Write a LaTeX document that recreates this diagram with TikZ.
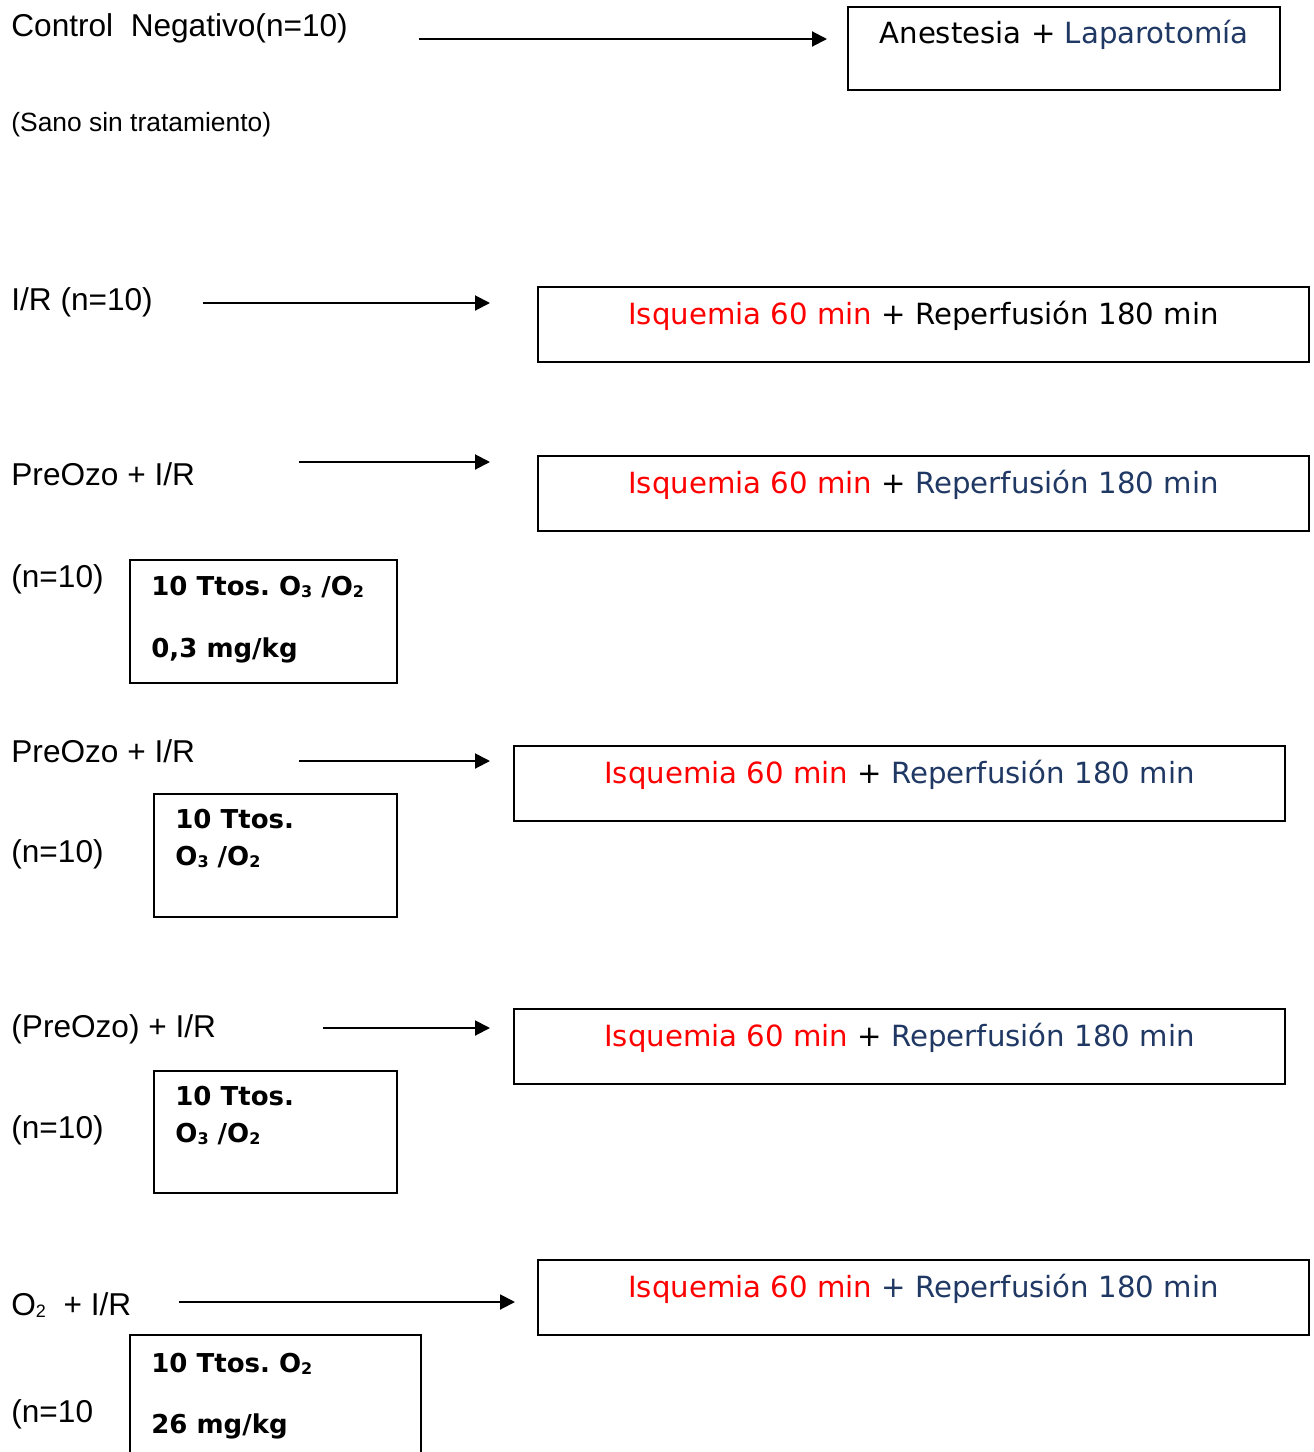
\documentclass[tikz,border=0pt]{standalone}
\usepackage{fontspec}
\setmainfont{Liberation Sans}
\newfontfamily\verd{DejaVu Sans}
\usetikzlibrary{arrows.meta}
\definecolor{isqred}{RGB}{255,0,0}
\definecolor{repblue}{RGB}{31,56,100}
\newcommand\subs[2][8]{\raisebox{-1pt}{\fontsize{#1}{#1}\selectfont #2}}
\frenchspacing

\begin{document}
\begin{tikzpicture}[x=0.5pt, y=-0.5pt, >={Triangle[length=7.5pt, width=7.5pt]},
  grp/.style={anchor=base west, inner sep=0pt, font=\fontsize{15.8}{18}\selectfont},
  stagebox/.style={draw, line width=1pt, anchor=north west, inner xsep=0pt, inner ysep=0pt,
    minimum width=385.5pt, text height=18.5pt, text depth=19pt,
    font=\verd\fontsize{14.6}{17}\selectfont},
  dosebox/.style={draw, line width=1pt, anchor=north west, inner sep=0pt},
  dose/.style={anchor=base west, inner sep=0pt, font=\verd\bfseries\fontsize{13}{15}\selectfont},
  flow/.style={->, line width=1pt}]
  % Page
  \clip (0,0) rectangle (1313,1452);
  % Control negativo
  \node[grp] (ctrl) at (11,36) {Control\ \ Negativo(n=10)};
  \node[grp, font=\fontsize{13.2}{16}\selectfont] (sano) at (11,131) {(Sano sin tratamiento)};
  \node[stagebox, minimum width=216pt, text height=18.25pt, text depth=23.25pt] (anest) at (847,6)
    {Anestesia + \textcolor{repblue}{Laparotomía}};
  \coordinate (a1) at (419,39);
  \draw[flow, shorten >=10pt] (a1) -- (anest.west |- a1);
  % I/R
  \node[grp] (ir) at (11,310) {I/R (n=10)};
  \node[stagebox] (ir-st) at (537,286)
    {\textcolor{isqred}{Isquemia 60 min} + Reperfusión 180 min};
  \coordinate (a2) at (203,303);
  \draw[flow, shorten >=23.5pt] (a2) -- (ir-st.west |- a2);
  % PreOzo + I/R, 0,3 mg/kg
  \node[grp] (pre1) at (11,485) {PreOzo + I/R};
  \node[grp] (pre1-n) at (11,587) {(n=10)};
  \node[stagebox] (pre1-st) at (537,455)
    {\textcolor{isqred}{Isquemia 60 min} + \textcolor{repblue}{Reperfusión 180 min}};
  \coordinate (a3) at (299,462);
  \draw[flow, shorten >=23.5pt] (a3) -- (pre1-st.west |- a3);
  \node[dosebox, minimum width=133.5pt, minimum height=61.5pt] (pre1-box) at (129,559) {};
  \node[dose] (pre1-d1) at ([shift={(11pt,-18pt)}]pre1-box.north west)
    {10 Ttos. O\subs{3} /O\subs{2}};
  \node[dose] (pre1-d2) at ([shift={(11pt,-49pt)}]pre1-box.north west) {0,3 mg/kg};
  % PreOzo + I/R
  \node[grp] (pre2) at (11,762) {PreOzo + I/R};
  \node[grp] (pre2-n) at (11,862) {(n=10)};
  \node[stagebox] (pre2-st) at (513,745)
    {\textcolor{isqred}{Isquemia 60 min} + \textcolor{repblue}{Reperfusión 180 min}};
  \coordinate (a4) at (299,761);
  \draw[flow, shorten >=11.5pt] (a4) -- (pre2-st.west |- a4);
  \node[dosebox, minimum width=121.5pt, minimum height=61.5pt] (pre2-box) at (153,793) {};
  \node[dose] (pre2-d1) at ([shift={(11pt,-17.5pt)}]pre2-box.north west) {10 Ttos.};
  \node[dose] (pre2-d2) at ([shift={(11pt,-36pt)}]pre2-box.north west)
    {O\subs{3} /O\subs{2}};
  % (PreOzo) + I/R
  \node[grp] (pre3) at (11,1037) {(PreOzo) + I/R};
  \node[grp] (pre3-n) at (11,1138) {(n=10)};
  \node[stagebox] (pre3-st) at (513,1008)
    {\textcolor{isqred}{Isquemia 60 min} + \textcolor{repblue}{Reperfusión 180 min}};
  \coordinate (a5) at (323,1028);
  \draw[flow, shorten >=11.5pt] (a5) -- (pre3-st.west |- a5);
  \node[dosebox, minimum width=121.5pt, minimum height=61pt] (pre3-box) at (153,1070) {};
  \node[dose] (pre3-d1) at ([shift={(11pt,-17.5pt)}]pre3-box.north west) {10 Ttos.};
  \node[dose] (pre3-d2) at ([shift={(11pt,-36pt)}]pre3-box.north west)
    {O\subs{3} /O\subs{2}};
  % O2 + I/R
  \node[grp] (oxy) at (11,1315) {O\subs[9]{2}\ \ + I/R};
  \node[grp] (oxy-n) at (11,1422) {(n=10};
  \node[stagebox] (oxy-st) at (537,1259)
    {\textcolor{isqred}{Isquemia 60 min} \textcolor{repblue}{+ Reperfusión 180 min}};
  \coordinate (a6) at (179,1302);
  \draw[flow, shorten >=11pt] (a6) -- (oxy-st.west |- a6);
  \node[dosebox, minimum width=145.5pt, minimum height=70pt] (oxy-box) at (129,1334) {};
  \node[dose] (oxy-d1) at ([shift={(11pt,-19pt)}]oxy-box.north west) {10 Ttos. O\subs{2}};
  \node[dose] (oxy-d2) at ([shift={(11pt,-49.5pt)}]oxy-box.north west) {26 mg/kg};
\end{tikzpicture}
\end{document}
